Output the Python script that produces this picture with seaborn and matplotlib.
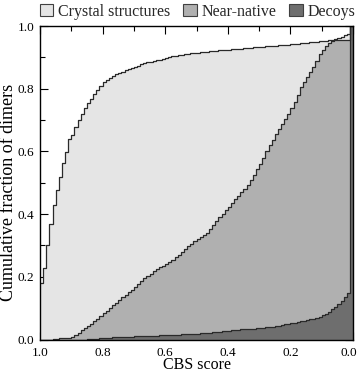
import matplotlib
matplotlib.use("Agg")
import matplotlib.pyplot as plt
from matplotlib.patches import Patch
from matplotlib.ticker import MultipleLocator
from matplotlib.transforms import ScaledTranslation
import numpy as np
import pandas as pd
import seaborn as sns

# CBS score thresholds (1.00 -> 0.00 in steps of 0.01)
score = [1.00, 0.99, 0.98, 0.97, 0.96, 0.95, 0.94, 0.93, 0.92, 0.91,
         0.90, 0.89, 0.88, 0.87, 0.86, 0.85, 0.84, 0.83, 0.82, 0.81,
         0.80, 0.79, 0.78, 0.77, 0.76, 0.75, 0.74, 0.73, 0.72, 0.71,
         0.70, 0.69, 0.68, 0.67, 0.66, 0.65, 0.64, 0.63, 0.62, 0.61,
         0.60, 0.59, 0.58, 0.57, 0.56, 0.55, 0.54, 0.53, 0.52, 0.51,
         0.50, 0.49, 0.48, 0.47, 0.46, 0.45, 0.44, 0.43, 0.42, 0.41,
         0.40, 0.39, 0.38, 0.37, 0.36, 0.35, 0.34, 0.33, 0.32, 0.31,
         0.30, 0.29, 0.28, 0.27, 0.26, 0.25, 0.24, 0.23, 0.22, 0.21,
         0.20, 0.19, 0.18, 0.17, 0.16, 0.15, 0.14, 0.13, 0.12, 0.11,
         0.10, 0.09, 0.08, 0.07, 0.06, 0.05, 0.04, 0.03, 0.02, 0.01,
         0.00]

crystal = [0.180, 0.227, 0.300, 0.370, 0.430, 0.476, 0.520, 0.563, 0.598, 0.639,
           0.652, 0.678, 0.700, 0.719, 0.739, 0.755, 0.766, 0.783, 0.796, 0.808,
           0.822, 0.827, 0.833, 0.840, 0.847, 0.850, 0.853, 0.859, 0.862, 0.866,
           0.870, 0.873, 0.878, 0.883, 0.884, 0.886, 0.889, 0.891, 0.893, 0.896,
           0.899, 0.902, 0.905, 0.906, 0.907, 0.909, 0.910, 0.911, 0.913, 0.914,
           0.915, 0.916, 0.917, 0.918, 0.919, 0.920, 0.921, 0.922, 0.923, 0.924,
           0.925, 0.926, 0.927, 0.928, 0.928, 0.929, 0.930, 0.931, 0.932, 0.933,
           0.933, 0.934, 0.935, 0.936, 0.937, 0.937, 0.938, 0.939, 0.940, 0.941,
           0.942, 0.943, 0.944, 0.945, 0.946, 0.947, 0.948, 0.949, 0.950, 0.951,
           0.952, 0.953, 0.954, 0.955, 0.958, 0.962, 0.966, 0.970, 0.975, 1.000,
           1.000]

near_native = [0.000, 0.000, 0.000, 0.000, 0.002, 0.002, 0.004, 0.004, 0.006, 0.006,
               0.009, 0.015, 0.022, 0.030, 0.036, 0.043, 0.050, 0.058, 0.066, 0.074,
               0.083, 0.091, 0.100, 0.110, 0.118, 0.126, 0.134, 0.142, 0.150, 0.159,
               0.168, 0.177, 0.186, 0.195, 0.203, 0.210, 0.217, 0.224, 0.230, 0.236,
               0.241, 0.247, 0.254, 0.262, 0.270, 0.279, 0.288, 0.297, 0.306, 0.314,
               0.322, 0.328, 0.334, 0.341, 0.352, 0.364, 0.378, 0.390, 0.401, 0.412,
               0.424, 0.436, 0.447, 0.458, 0.469, 0.480, 0.494, 0.509, 0.525, 0.543,
               0.560, 0.580, 0.601, 0.620, 0.637, 0.654, 0.672, 0.688, 0.703, 0.720,
               0.738, 0.757, 0.780, 0.806, 0.822, 0.838, 0.853, 0.870, 0.888, 0.910,
               0.924, 0.936, 0.945, 0.953, 0.956, 0.957, 0.957, 0.957, 0.957, 1.000,
               1.000]

decoys = [0.000, 0.000, 0.000, 0.000, 0.000, 0.000, 0.000, 0.000, 0.000, 0.000,
          0.000, 0.000, 0.000, 0.000, 0.000, 0.001, 0.001, 0.002, 0.003, 0.004,
          0.005, 0.006, 0.006, 0.007, 0.007, 0.008, 0.008, 0.009, 0.009, 0.009,
          0.010, 0.010, 0.010, 0.011, 0.011, 0.011, 0.012, 0.012, 0.013, 0.013,
          0.014, 0.014, 0.014, 0.015, 0.015, 0.016, 0.016, 0.017, 0.017, 0.018,
          0.019, 0.020, 0.021, 0.022, 0.022, 0.023, 0.024, 0.025, 0.026, 0.027,
          0.028, 0.029, 0.030, 0.031, 0.032, 0.032, 0.033, 0.034, 0.035, 0.036,
          0.037, 0.038, 0.039, 0.040, 0.041, 0.042, 0.044, 0.046, 0.048, 0.050,
          0.052, 0.054, 0.056, 0.058, 0.060, 0.062, 0.064, 0.066, 0.069, 0.073,
          0.077, 0.082, 0.088, 0.096, 0.104, 0.114, 0.124, 0.135, 0.147, 1.000,
          1.000]

series_names = ["Crystal structures", "Near-native", "Decoys"]
series_values = [crystal, near_native, decoys]
fill_colors = ["#e5e5e5", "#b0b0b0", "#6e6e6e"]
edge_color = "#2a2a2a"

sns.set_theme(style="ticks")
plt.rcParams["font.family"] = ["Liberation Serif", "DejaVu Serif"]

fig = plt.figure(figsize=(3.58, 3.73), dpi=100)
ax = fig.add_axes([0.1117, 0.0898, 0.8744, 0.8404])

for name, vals, col in zip(series_names, series_values, fill_colors):
    df = pd.DataFrame({"score": score, "frac": vals})
    ax.fill_between(df["score"], 0, df["frac"], step="post", color=col,
                    linewidth=0, zorder=1)
    sns.lineplot(data=df, x="score", y="frac", sort=False, estimator=None,
                 drawstyle="steps-post", color=edge_color, linewidth=0.9,
                 ax=ax, zorder=2)

ax.set_xlim(1.0, 0.0)
ax.set_ylim(0.0, 1.0)
ax.xaxis.set_major_locator(MultipleLocator(0.2))
ax.xaxis.set_minor_locator(MultipleLocator(0.1))
ax.yaxis.set_major_locator(MultipleLocator(0.2))
ax.yaxis.set_minor_locator(MultipleLocator(0.1))
ax.tick_params(which="both", direction="in", top=True, right=True,
               width=0.8, color="black")
ax.tick_params(which="major", length=6, labelsize=9.5, labelcolor="black")
ax.tick_params(axis="x", which="major", pad=5.5)
ax.tick_params(axis="y", which="major", pad=4)
ax.tick_params(which="minor", length=3.3)
for s in ax.spines.values():
    s.set_linewidth(1.0)
    s.set_color("black")
    s.set_zorder(5)

ax.set_xlabel("CBS score", fontsize=11.5, color="black", va="top")
ax.xaxis.set_label_coords(0.5, -0.055)
ax.set_ylabel("Cumulative fraction of dimers", fontsize=13, color="black")
ax.yaxis.set_label_coords(-0.072, 0.47)

# nudge the right-most x tick label so it stays inside the figure
fig.canvas.draw()
xlabels = ax.get_xticklabels()
last = [t for t in xlabels if t.get_text() in ("0.0", "−0.0", "-0.0")]
for t in last[-1:]:
    t.set_transform(t.get_transform() +
                    ScaledTranslation(-4 / 100, 0, fig.dpi_scale_trans))

handles = [Patch(facecolor=c, edgecolor="#404040", linewidth=0.8)
           for c in fill_colors]
fig.legend(handles, series_names, loc="center", bbox_to_anchor=(0.552, 0.969),
           ncol=3, frameon=False, fontsize=11.5, handlelength=0.85,
           handleheight=0.85, handletextpad=0.3, columnspacing=0.8,
           borderaxespad=0, borderpad=0)

fig.savefig("out.png", dpi=100)
